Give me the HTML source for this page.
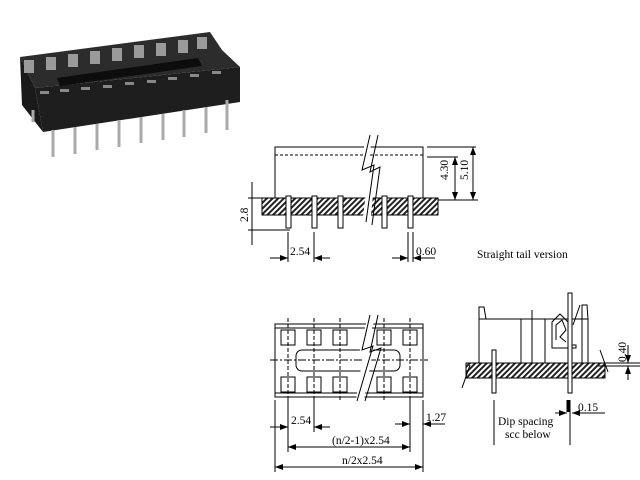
<!DOCTYPE html>
<html><head><style>body{margin:0;background:#fff}svg{display:block}text{font-family:"Liberation Serif",serif;font-size:11.5px;fill:#000}</style></head>
<body>
<svg width="640" height="480" viewBox="0 0 640 480">
<defs>
<pattern id="h" width="4" height="4" patternUnits="userSpaceOnUse" patternTransform="rotate(45)"><rect width="4" height="4" fill="#fff"/><rect width="2" height="4" fill="#222"/></pattern>
<marker id="a" markerWidth="8" markerHeight="6" refX="8" refY="3" orient="auto-start-reverse"><path d="M0,0L8,3L0,6z" fill="#000"/></marker>
</defs>
<g>
<polygon points="20,57 210,32 222,50 240,67 35,88" fill="#2c2c2c"/>
<polygon points="20,57 35,88 43,132 22,105" fill="#1a1a1a"/>
<polygon points="35,88 240,67 240,102 43,132" fill="#1e1e1e"/>
<polygon points="57,78 198,58 202,66 60,86" fill="#0d0d0d"/>
<g fill="#9a9a9a">
<rect x="24" y="60" width="10" height="13"/><rect x="46" y="57" width="10" height="13"/><rect x="68" y="54" width="10" height="13"/><rect x="90" y="51" width="10" height="13"/><rect x="112" y="48" width="10" height="13"/><rect x="134" y="45" width="10" height="13"/><rect x="156" y="43" width="10" height="13"/><rect x="178" y="40" width="10" height="13"/><rect x="197" y="37" width="10" height="12"/>
</g>
<g fill="#888"><rect x="40" y="91" width="9" height="3"/><rect x="60" y="89" width="9" height="3"/><rect x="81" y="87" width="9" height="3"/><rect x="103" y="85" width="9" height="3"/><rect x="125" y="82" width="9" height="3"/><rect x="147" y="80" width="9" height="3"/><rect x="168" y="77" width="9" height="3"/><rect x="190" y="74" width="9" height="3"/><rect x="212" y="71" width="9" height="3"/></g>
<g stroke="#aaa" stroke-width="3">
<line x1="53" y1="130" x2="53" y2="157"/><line x1="75" y1="127" x2="75" y2="154"/><line x1="97" y1="124" x2="97" y2="150"/><line x1="119" y1="120" x2="119" y2="147"/><line x1="141" y1="117" x2="141" y2="143"/><line x1="163" y1="114" x2="163" y2="140"/><line x1="184" y1="110" x2="184" y2="137"/><line x1="206" y1="107" x2="206" y2="133"/><line x1="227" y1="100" x2="227" y2="130"/><line x1="33" y1="110" x2="33" y2="122"/>
</g>
</g>
<g fill="none" stroke="#000" stroke-width="1">
<rect x="275" y="147" width="148" height="51"/>
<line x1="275" y1="155" x2="423" y2="155" stroke-dasharray="3,2"/>
<rect x="262" y="198" width="176" height="17" fill="url(#h)"/>
<polygon points="366,130 374,130 366,170 376,165 370,225 362,225 368,176 360,180" fill="#fff" stroke="none"/>
<path d="M370,135 L362,170 L374,165 L366,222 M378,135 L370,172 L380,167 L372,225"/>
<g fill="#fff"><rect x="286" y="196" width="5" height="32"/><rect x="312" y="196" width="5" height="32"/><rect x="338" y="196" width="5" height="32"/><rect x="382" y="196" width="5" height="32"/><rect x="408" y="196" width="5" height="32"/></g>
<line x1="427" y1="147" x2="476" y2="147"/><line x1="427" y1="157" x2="458" y2="157"/><line x1="438" y1="200" x2="478" y2="200"/>
<line x1="473" y1="147" x2="473" y2="200" marker-start="url(#a)" marker-end="url(#a)"/>
<line x1="455" y1="157" x2="455" y2="200" marker-start="url(#a)" marker-end="url(#a)"/>
<line x1="252" y1="182" x2="252" y2="245"/><line x1="248" y1="198" x2="262" y2="198"/><line x1="248" y1="230" x2="290" y2="230"/>
<line x1="288" y1="232" x2="288" y2="262"/><line x1="314" y1="232" x2="314" y2="262"/>
<line x1="270" y1="258" x2="288" y2="258" marker-end="url(#a)"/><line x1="330" y1="258" x2="314" y2="258" marker-end="url(#a)"/>
<line x1="408" y1="232" x2="408" y2="262"/><line x1="413" y1="232" x2="413" y2="262"/>
<line x1="392" y1="258" x2="408" y2="258" marker-end="url(#a)"/><line x1="435" y1="258" x2="413" y2="258" marker-end="url(#a)"/>
<rect x="275" y="324" width="148" height="73"/>
<line x1="275" y1="328" x2="423" y2="328"/><line x1="275" y1="393" x2="423" y2="393"/>
<g><rect x="281" y="330" width="14" height="15"/><rect x="307" y="330" width="14" height="15"/><rect x="333" y="330" width="14" height="15"/><rect x="377" y="330" width="14" height="15"/><rect x="403" y="330" width="14" height="15"/>
<rect x="281" y="377" width="14" height="15"/><rect x="307" y="377" width="14" height="15"/><rect x="333" y="377" width="14" height="15"/><rect x="377" y="377" width="14" height="15"/><rect x="403" y="377" width="14" height="15"/></g>
<rect x="296" y="350" width="104" height="21" rx="6"/>
<line x1="270" y1="360" x2="428" y2="360" stroke-dasharray="8,2,2,2"/>
<g stroke-dasharray="4,2"><line x1="288" y1="318" x2="288" y2="400"/><line x1="314" y1="318" x2="314" y2="400"/><line x1="340" y1="318" x2="340" y2="400"/><line x1="384" y1="318" x2="384" y2="400"/><line x1="410" y1="318" x2="410" y2="400"/></g>
<polygon points="368,315 376,315 366,348 374,345 364,400 356,400 363,355 358,358" fill="#fff" stroke="none"/>
<path d="M370,315 L362,350 L373,346 L357,401 M378,315 L370,352 L381,348 L365,401"/>
<line x1="275" y1="400" x2="275" y2="472"/><line x1="423" y1="400" x2="423" y2="472"/>
<line x1="288" y1="400" x2="288" y2="452"/><line x1="314" y1="400" x2="314" y2="432"/><line x1="410" y1="400" x2="410" y2="452"/>
<line x1="270" y1="427" x2="288" y2="427" marker-end="url(#a)"/><line x1="330" y1="427" x2="314" y2="427" marker-end="url(#a)"/>
<line x1="395" y1="424" x2="410" y2="424" marker-end="url(#a)"/><line x1="445" y1="424" x2="423" y2="424" marker-end="url(#a)"/>
<line x1="288" y1="447" x2="410" y2="447" marker-start="url(#a)" marker-end="url(#a)"/>
<line x1="275" y1="467" x2="423" y2="467" marker-start="url(#a)" marker-end="url(#a)"/>
<rect x="479" y="319" width="109" height="44"/>
<path d="M479,319 L479,307 L484,307 L486,319"/>
<path d="M582,363 L582,305 L587,305 L588,319"/>
<line x1="521" y1="319" x2="521" y2="363"/><line x1="532" y1="310" x2="532" y2="363"/><line x1="545" y1="319" x2="545" y2="363"/>
<path d="M552,348 L552,322 L560,314 L568,322 L568,345 L576,345 L576,348 Z"/>
<path d="M556,340 L556,325 L562,320 L566,330 L560,337 L566,342"/>
<rect x="466" y="363" width="139" height="15" fill="url(#h)"/>
<rect x="492" y="350" width="4" height="43" fill="#fff"/><rect x="568" y="293" width="4" height="100" fill="#fff"/>
<path d="M580,305 L573,325"/>
<path d="M470,365 L462,388 M600,350 L608,372"/>
<line x1="590" y1="363" x2="640" y2="363"/><line x1="598" y1="366" x2="640" y2="366"/>
<line x1="628" y1="345" x2="628" y2="363" marker-end="url(#a)"/><line x1="628" y1="380" x2="628" y2="366" marker-end="url(#a)"/>
<line x1="494" y1="400" x2="494" y2="445"/><line x1="570" y1="400" x2="570" y2="445"/>
<line x1="568" y1="400" x2="568" y2="412" stroke-width="3"/>
<line x1="555" y1="413" x2="567" y2="413" marker-end="url(#a)"/><line x1="605" y1="413" x2="572" y2="413" marker-end="url(#a)"/>
</g>
<text x="290" y="255">2.54</text><text x="416" y="255">0.60</text>
<text transform="translate(448,180) rotate(-90)">4.30</text>
<text transform="translate(468,180) rotate(-90)">5.10</text>
<text transform="translate(248,222) rotate(-90)">2.8</text>
<text x="477" y="258">Straight tail version</text>
<text x="291" y="424">2.54</text><text x="426" y="421">1.27</text>
<text x="332" y="444">(n/2-1)x2.54</text><text x="342" y="464">n/2x2.54</text>
<text x="578" y="411">0.15</text>
<text transform="translate(626,362) rotate(-90)">0.40</text>
<text x="498" y="425">Dip spacing</text><text x="505" y="438">scc below</text>
</svg>
</body></html>
